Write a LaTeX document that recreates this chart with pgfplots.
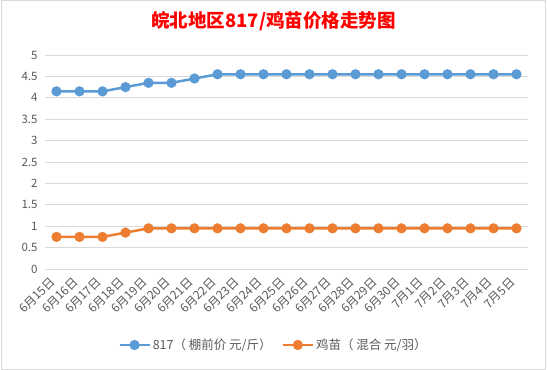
\documentclass[border=0pt]{standalone}
\usepackage{pgfplots}
\pgfplotsset{compat=1.18}
\usepackage{fontspec}
\setmainfont{Noto Sans CJK SC}
\definecolor{cblue}{HTML}{5B9BD5}
\definecolor{corange}{HTML}{ED7D31}
\definecolor{lbl}{HTML}{595959}
\definecolor{gridc}{HTML}{D9D9D9}
\begin{document}
\begin{tikzpicture}[x=1pt,y=1pt]
\useasboundingbox (0,0) rectangle (547,370);
\draw[color=gridc, line width=1pt] (1.5,0.5) rectangle (545.5,369.5);
\node[text=red, font=\fontsize{18.5}{22}\selectfont\bfseries] at (273.5,349) {皖北地区817/鸡苗价格走势图};
\begin{axis}[
  at={(45pt,101pt)}, anchor=south west, scale only axis,
  width=483pt, height=214pt,
  xmin=-0.5, xmax=20.5, ymin=0, ymax=5,
  axis x line*=bottom, axis y line*=left,
  x axis line style={color=gridc, line width=0.8pt},
  y axis line style={draw=none},
  ytick={0,0.5,1,1.5,2,2.5,3,3.5,4,4.5,5},
  ymajorgrids, grid style={color=gridc, line width=0.8pt},
  ytick style={draw=none},
  xtick={0,...,20},
  xticklabels={6月15日,6月16日,6月17日,6月18日,6月19日,6月20日,6月21日,6月22日,6月23日,6月24日,6月25日,6月26日,6月27日,6月28日,6月29日,6月30日,7月1日,7月2日,7月3日,7月4日,7月5日},
  minor xtick={-0.5,0.5,...,20.5},
  tick align=outside,
  major tick length=0pt,
  minor tick length=5pt,
  minor x tick style={color=gridc, line width=0.8pt},
  xtick style={draw=none},
  /pgf/number format/assume math mode=true,
  ticklabel style={text=lbl, font=\fontsize{11.5}{12}\selectfont},
  x tick label style={xshift=-3pt, yshift=-10pt, rotate=45, anchor=east, inner sep=1pt, font=\fontsize{12}{12}\selectfont},
  y tick label style={xshift=-4pt},
  legend columns=2,
  legend style={at={(0.473,-0.355)}, anchor=center, draw=none, fill=none,
    font=\fontsize{12.5}{13}\selectfont, text=lbl,
    /tikz/every even column/.append style={column sep=8pt}},
  legend image code/.code={\draw[mark repeat=2,mark phase=2,#1] plot coordinates {(0pt,0pt) (15pt,0pt) (30pt,0pt)};},
]
\addplot[color=cblue, line width=2.5pt, mark=*, mark size=3.8pt, mark options={fill=cblue, draw=none}] coordinates {
(0,4.15)(1,4.15)(2,4.15)(3,4.25)(4,4.35)(5,4.35)(6,4.45)(7,4.55)(8,4.55)(9,4.55)(10,4.55)(11,4.55)(12,4.55)(13,4.55)(14,4.55)(15,4.55)(16,4.55)(17,4.55)(18,4.55)(19,4.55)(20,4.55)};
\addlegendentry{817（ 棚前价 元/斤）}
\addplot[color=corange, line width=2.5pt, mark=*, mark size=3.8pt, mark options={fill=corange, draw=none}] coordinates {
(0,0.75)(1,0.75)(2,0.75)(3,0.85)(4,0.95)(5,0.95)(6,0.95)(7,0.95)(8,0.95)(9,0.95)(10,0.95)(11,0.95)(12,0.95)(13,0.95)(14,0.95)(15,0.95)(16,0.95)(17,0.95)(18,0.95)(19,0.95)(20,0.95)};
\addlegendentry{鸡苗（ 混合 元/羽）}
\end{axis}
\end{tikzpicture}
\end{document}
